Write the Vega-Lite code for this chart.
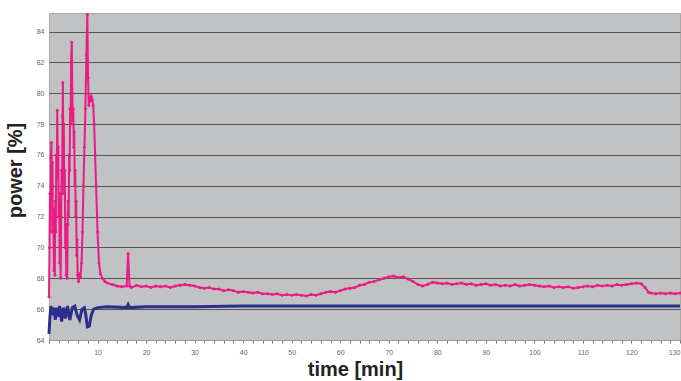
{
  "$schema": "https://vega.github.io/schema/vega-lite/v6.json",
  "width": 631,
  "height": 327,
  "autosize": "none",
  "padding": {"left": 49, "top": 13, "right": 1, "bottom": 41},
  "background": "#ffffff",
  "config": {
    "view": {"fill": "#c0c2c4", "stroke": "#a8a8a8", "strokeWidth": 1},
    "font": "Liberation Sans"
  },
  "datasets": {
    "pink": [
      {"t": 0.0, "v": 66.8}, {"t": 0.1, "v": 70.0}, {"t": 0.2, "v": 73.5}, {"t": 0.3, "v": 71.0}, {"t": 0.4, "v": 75.8},
      {"t": 0.5, "v": 76.8}, {"t": 0.6, "v": 74.0}, {"t": 0.7, "v": 75.5}, {"t": 0.8, "v": 71.0}, {"t": 0.9, "v": 72.5},
      {"t": 1.0, "v": 68.5}, {"t": 1.1, "v": 70.5}, {"t": 1.2, "v": 68.2}, {"t": 1.3, "v": 73.0}, {"t": 1.4, "v": 71.0},
      {"t": 1.5, "v": 76.0}, {"t": 1.6, "v": 74.5}, {"t": 1.7, "v": 78.9}, {"t": 1.8, "v": 75.0}, {"t": 1.9, "v": 76.5},
      {"t": 2.0, "v": 72.0}, {"t": 2.1, "v": 73.5}, {"t": 2.2, "v": 69.0}, {"t": 2.3, "v": 70.5}, {"t": 2.4, "v": 68.0},
      {"t": 2.5, "v": 72.0}, {"t": 2.6, "v": 75.0}, {"t": 2.7, "v": 73.5}, {"t": 2.8, "v": 78.5}, {"t": 2.85, "v": 80.7},
      {"t": 2.95, "v": 77.0}, {"t": 3.05, "v": 78.0}, {"t": 3.15, "v": 73.5}, {"t": 3.25, "v": 75.0}, {"t": 3.35, "v": 70.0},
      {"t": 3.45, "v": 71.5}, {"t": 3.55, "v": 68.2}, {"t": 3.65, "v": 70.0}, {"t": 3.75, "v": 68.0}, {"t": 3.85, "v": 71.5},
      {"t": 3.95, "v": 73.0}, {"t": 4.05, "v": 72.0}, {"t": 4.15, "v": 76.0}, {"t": 4.25, "v": 75.0}, {"t": 4.35, "v": 79.0},
      {"t": 4.45, "v": 78.0}, {"t": 4.55, "v": 82.0}, {"t": 4.7, "v": 83.3}, {"t": 4.8, "v": 80.0}, {"t": 4.9, "v": 78.2},
      {"t": 5.0, "v": 79.0}, {"t": 5.1, "v": 76.5}, {"t": 5.2, "v": 77.5}, {"t": 5.3, "v": 74.0}, {"t": 5.4, "v": 75.0},
      {"t": 5.5, "v": 72.0}, {"t": 5.6, "v": 73.0}, {"t": 5.7, "v": 69.5}, {"t": 5.8, "v": 70.5}, {"t": 5.9, "v": 68.2},
      {"t": 6.0, "v": 68.0}, {"t": 6.1, "v": 67.8}, {"t": 6.3, "v": 68.3}, {"t": 6.5, "v": 68.1}, {"t": 6.7, "v": 69.0},
      {"t": 6.9, "v": 71.0}, {"t": 7.1, "v": 74.0}, {"t": 7.3, "v": 76.5}, {"t": 7.5, "v": 79.0}, {"t": 7.7, "v": 82.5},
      {"t": 7.9, "v": 85.1}, {"t": 8.05, "v": 81.0}, {"t": 8.2, "v": 79.2}, {"t": 8.35, "v": 79.7}, {"t": 8.5, "v": 79.5},
      {"t": 8.7, "v": 79.8}, {"t": 8.9, "v": 79.6}, {"t": 9.1, "v": 79.2}, {"t": 9.3, "v": 78.0}, {"t": 9.5, "v": 76.0},
      {"t": 9.7, "v": 74.0}, {"t": 10.0, "v": 71.0}, {"t": 10.3, "v": 69.0}, {"t": 10.6, "v": 68.3}, {"t": 11.0, "v": 68.0},
      {"t": 11.5, "v": 67.8}, {"t": 12.0, "v": 67.7}, {"t": 13.0, "v": 67.6}, {"t": 14.0, "v": 67.5},
      {"t": 15.0, "v": 67.45}, {"t": 16.0, "v": 67.5}, {"t": 16.3, "v": 69.6}, {"t": 16.6, "v": 67.5}, {"t": 17.0, "v": 67.4},
      {"t": 18.0, "v": 67.55}, {"t": 19.0, "v": 67.45}, {"t": 20.0, "v": 67.5}, {"t": 21.0, "v": 67.4}, {"t": 22.0, "v": 67.5},
      {"t": 23.0, "v": 67.45}, {"t": 24.0, "v": 67.5}, {"t": 25.0, "v": 67.4}, {"t": 26.0, "v": 67.5}, {"t": 27.0, "v": 67.55},
      {"t": 28.0, "v": 67.6}, {"t": 29.0, "v": 67.55}, {"t": 30.0, "v": 67.5}, {"t": 31.0, "v": 67.4}, {"t": 32.0, "v": 67.35},
      {"t": 33.0, "v": 67.4}, {"t": 34.0, "v": 67.3}, {"t": 35.0, "v": 67.3}, {"t": 36.0, "v": 67.2}, {"t": 37.0, "v": 67.25},
      {"t": 38.0, "v": 67.2}, {"t": 39.0, "v": 67.1}, {"t": 40.0, "v": 67.15}, {"t": 41.0, "v": 67.1}, {"t": 42.0, "v": 67.05},
      {"t": 43.0, "v": 67.1}, {"t": 44.0, "v": 67.0}, {"t": 45.0, "v": 67.0}, {"t": 46.0, "v": 66.95}, {"t": 47.0, "v": 67.0},
      {"t": 48.0, "v": 66.9}, {"t": 49.0, "v": 66.95}, {"t": 50.0, "v": 66.9}, {"t": 51.0, "v": 66.95}, {"t": 52.0, "v": 66.9},
      {"t": 53.0, "v": 66.85}, {"t": 54.0, "v": 66.95}, {"t": 55.0, "v": 66.9}, {"t": 56.0, "v": 67.0}, {"t": 57.0, "v": 67.1},
      {"t": 58.0, "v": 67.15}, {"t": 59.0, "v": 67.1}, {"t": 60.0, "v": 67.2}, {"t": 61.0, "v": 67.3}, {"t": 62.0, "v": 67.35},
      {"t": 63.0, "v": 67.4}, {"t": 64.0, "v": 67.55}, {"t": 65.0, "v": 67.6}, {"t": 66.0, "v": 67.75}, {"t": 67.0, "v": 67.8},
      {"t": 68.0, "v": 67.9}, {"t": 69.0, "v": 68.0}, {"t": 70.0, "v": 68.1}, {"t": 71.0, "v": 68.15}, {"t": 72.0, "v": 68.05},
      {"t": 73.0, "v": 68.1}, {"t": 74.0, "v": 67.95}, {"t": 75.0, "v": 67.8}, {"t": 76.0, "v": 67.6}, {"t": 77.0, "v": 67.5},
      {"t": 78.0, "v": 67.6}, {"t": 79.0, "v": 67.75}, {"t": 80.0, "v": 67.7}, {"t": 81.0, "v": 67.65}, {"t": 82.0, "v": 67.7},
      {"t": 83.0, "v": 67.6}, {"t": 84.0, "v": 67.65}, {"t": 85.0, "v": 67.7}, {"t": 86.0, "v": 67.6}, {"t": 87.0, "v": 67.65},
      {"t": 88.0, "v": 67.55}, {"t": 89.0, "v": 67.6}, {"t": 90.0, "v": 67.65}, {"t": 91.0, "v": 67.55}, {"t": 92.0, "v": 67.6},
      {"t": 93.0, "v": 67.5}, {"t": 94.0, "v": 67.55}, {"t": 95.0, "v": 67.5}, {"t": 96.0, "v": 67.6}, {"t": 97.0, "v": 67.5},
      {"t": 98.0, "v": 67.55}, {"t": 99.0, "v": 67.6}, {"t": 100.0, "v": 67.55}, {"t": 101.0, "v": 67.5}, {"t": 102.0, "v": 67.45},
      {"t": 103.0, "v": 67.5}, {"t": 104.0, "v": 67.4}, {"t": 105.0, "v": 67.45}, {"t": 106.0, "v": 67.4}, {"t": 107.0, "v": 67.45},
      {"t": 108.0, "v": 67.35}, {"t": 109.0, "v": 67.4}, {"t": 110.0, "v": 67.45}, {"t": 111.0, "v": 67.5}, {"t": 112.0, "v": 67.45},
      {"t": 113.0, "v": 67.55}, {"t": 114.0, "v": 67.5}, {"t": 115.0, "v": 67.55}, {"t": 116.0, "v": 67.5}, {"t": 117.0, "v": 67.6},
      {"t": 118.0, "v": 67.55}, {"t": 119.0, "v": 67.6}, {"t": 120.0, "v": 67.65}, {"t": 121.0, "v": 67.7}, {"t": 122.0, "v": 67.65},
      {"t": 122.8, "v": 67.4}, {"t": 123.5, "v": 67.1}, {"t": 124.0, "v": 67.05}, {"t": 125.0, "v": 67.0}, {"t": 126.0, "v": 67.05},
      {"t": 127.0, "v": 67.0}, {"t": 128.0, "v": 67.05}, {"t": 129.0, "v": 67.0}, {"t": 130.0, "v": 67.05}
    ],
    "blue": [
      {"t": 0.0, "v": 64.4}, {"t": 0.2, "v": 65.5}, {"t": 0.4, "v": 66.2}, {"t": 0.7, "v": 65.6}, {"t": 1.0, "v": 66.1},
      {"t": 1.3, "v": 65.3}, {"t": 1.6, "v": 66.1}, {"t": 1.9, "v": 65.5}, {"t": 2.2, "v": 66.2}, {"t": 2.6, "v": 65.2},
      {"t": 3.0, "v": 66.1}, {"t": 3.4, "v": 65.4}, {"t": 3.8, "v": 66.2}, {"t": 4.3, "v": 65.3}, {"t": 4.8, "v": 66.1},
      {"t": 5.3, "v": 66.2}, {"t": 5.8, "v": 65.6}, {"t": 6.3, "v": 65.3}, {"t": 6.8, "v": 66.0}, {"t": 7.3, "v": 66.1},
      {"t": 7.6, "v": 65.6}, {"t": 7.9, "v": 64.85}, {"t": 8.3, "v": 64.9}, {"t": 8.7, "v": 65.6}, {"t": 9.2, "v": 66.0},
      {"t": 10.0, "v": 66.1}, {"t": 12.0, "v": 66.15}, {"t": 16.0, "v": 66.1}, {"t": 16.3, "v": 66.3}, {"t": 16.6, "v": 66.1},
      {"t": 20.0, "v": 66.15}, {"t": 30.0, "v": 66.15}, {"t": 40.0, "v": 66.2}, {"t": 50.0, "v": 66.2}, {"t": 60.0, "v": 66.2},
      {"t": 70.0, "v": 66.2}, {"t": 80.0, "v": 66.2}, {"t": 90.0, "v": 66.2}, {"t": 100.0, "v": 66.2}, {"t": 110.0, "v": 66.2},
      {"t": 120.0, "v": 66.2}, {"t": 130.0, "v": 66.2}
    ]
  },
  "encoding": {
    "x": {
      "field": "t", "type": "quantitative",
      "scale": {"domain": [0, 130], "nice": false, "zero": false},
      "axis": {
        "values": [0,2,4,6,8,10,12,14,16,18,20,22,24,26,28,30,32,34,36,38,40,42,44,46,48,50,52,54,56,58,60,62,64,66,68,70,72,74,76,78,80,82,84,86,88,90,92,94,96,98,100,102,104,106,108,110,112,114,116,118,120,122,124,126,128,130],
        "labelExpr": "datum.value % 10 === 0 && datum.value > 0 ? datum.label : ''",
        "grid": false,
        "domain": true, "domainColor": "#9a9a9a",
        "tickSize": 3, "tickColor": "#777777",
        "labelFontSize": 7, "labelColor": "#666666", "labelPadding": 5,
        "labelOverlap": false,
        "title": "time [min]", "titleFontSize": 20, "titleFontWeight": "bold",
        "titleColor": "#222222", "titleX": 306, "titleY": 35, "titleBaseline": "alphabetic"
      }
    },
    "y": {
      "field": "v", "type": "quantitative",
      "scale": {"domain": [64, 85.2], "nice": false, "zero": false},
      "axis": {
        "values": [64,66,68,70,72,74,76,78,80,82,84],
        "grid": true, "gridColor": "#555555", "gridWidth": 1,
        "domain": false, "ticks": false,
        "labelFontSize": 7, "labelColor": "#666666", "labelPadding": 5,
        "title": "power [%]", "titleFontSize": 20, "titleFontWeight": "bold",
        "titleColor": "#222222", "titleX": -24, "titleY": 157
      }
    }
  },
  "layer": [
    {
      "data": {"name": "blue"},
      "mark": {"type": "line", "color": "#2b2f8c", "strokeWidth": 3}
    },
    {
      "data": {"name": "pink"},
      "mark": {"type": "line", "color": "#ec1b84", "strokeWidth": 2, "point": {"filled": true, "size": 9, "color": "#ec1b84"}}
    }
  ]
}
